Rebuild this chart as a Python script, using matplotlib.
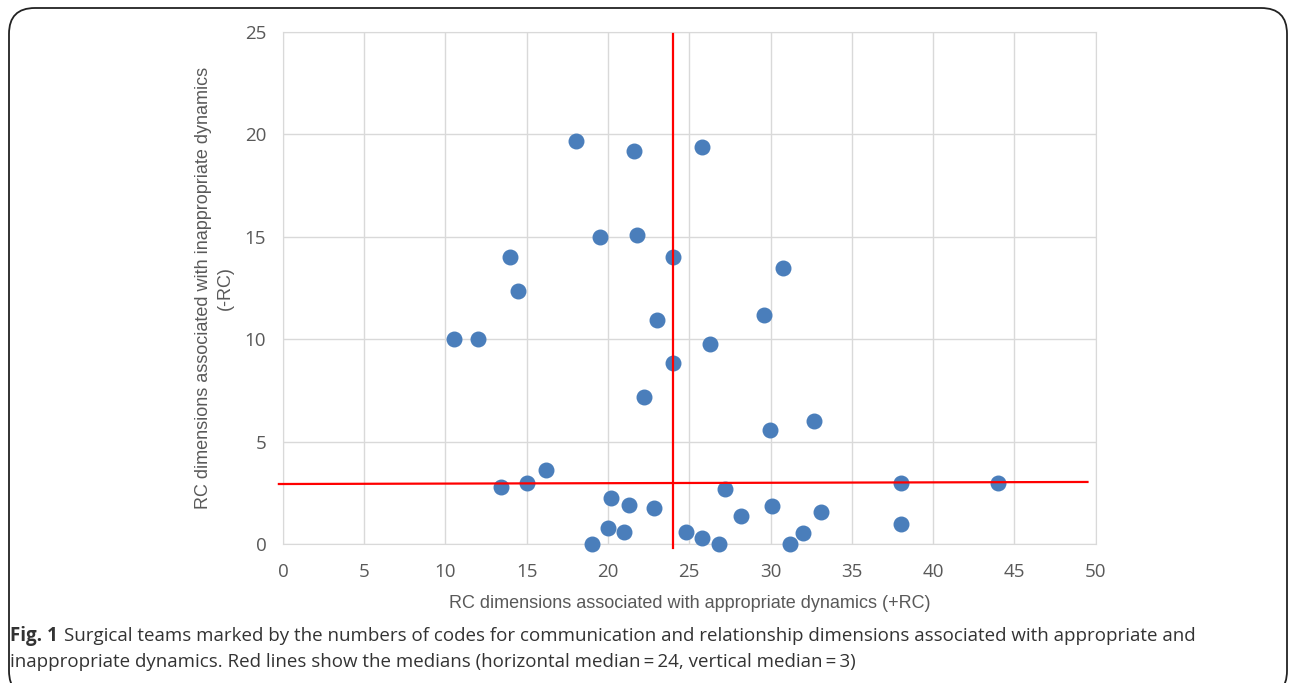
"""Surgical teams: +RC vs -RC codes scatter with median lines"""

import matplotlib
matplotlib.use('Agg')
import matplotlib.pyplot as plt
from matplotlib.patches import FancyBboxPatch

# points
pos_rc = [19.0, 10.5, 12.0, 14.0, 14.45, 13.4, 15.0, 16.2, 18.0, 19.5,
          20.2, 20.0, 21.0, 21.3, 21.6, 21.8, 22.2, 22.8, 23.0, 24.0,
          24.0, 24.8, 25.8, 25.8, 26.3, 26.8, 27.2, 28.2, 29.6, 29.95,
          30.1, 30.75, 31.2, 32.0, 32.7, 33.1, 38.0, 38.0, 44.0]
neg_rc = [0.0, 10.0, 10.0, 14.0, 12.35, 2.8, 3.0, 3.6, 19.7, 15.0,
          2.25, 0.8, 0.6, 1.9, 19.2, 15.1, 7.2, 1.75, 10.95, 14.0,
          8.85, 0.6, 19.4, 0.3, 9.75, 0.0, 2.7, 1.35, 11.2, 5.55,
          1.85, 13.5, 0.0, 0.55, 6.0, 1.55, 3.0, 1.0, 3.0]

median_x = 24
median_y = 3
# the hand-drawn horizontal median line is a little tilted
hline_x = [-0.25, 49.5]
hline_y = [2.93, 3.03]
vline_y = [-0.2, 24.9]

x_ticks = [0, 5, 10, 15, 20, 25, 30, 35, 40, 45, 50]
y_ticks = [0, 5, 10, 15, 20, 25]

caption_1 = ("Surgical teams marked by the numbers of codes for communication and "
             "relationship dimensions associated with appropriate and")
caption_2 = ("inappropriate dynamics. Red lines show the medians "
             "(horizontal median\u2009=\u200924, vertical median\u2009=\u20093)")

fig = plt.figure(figsize=(12.92, 6.83), dpi=100)
ax = fig.add_axes([0.219, 0.2035, 0.629, 0.7495])

ax.scatter(pos_rc, neg_rc, s=110, color='#4a7ebb', zorder=3, clip_on=False)
ax.plot(hline_x, hline_y, color='#ff0000', lw=1.6, zorder=4, clip_on=False)
ax.plot([median_x, median_x], vline_y, color='#ff0000', lw=1.6, zorder=4, clip_on=False)

ax.set_xlim(0, 50)
ax.set_ylim(0, 25)
ax.set_xticks(x_ticks)
ax.set_yticks(y_ticks)
ax.grid(True, color='#d9d9d9', lw=1.0, zorder=0)
for s in ax.spines.values():
    s.set_color('#d9d9d9')
ax.tick_params(length=0, labelsize=13.5, labelcolor='#595959')
ax.tick_params(axis='x', pad=14)
ax.tick_params(axis='y', pad=12)
for lab in ax.get_xticklabels() + ax.get_yticklabels():
    lab.set_family('Open Sans')

ax.set_xlabel('RC dimensions associated with appropriate dynamics (+RC)',
              family='Liberation Sans', fontsize=13, color='#595959', labelpad=10)
ax.set_ylabel('RC dimensions associated with inappropriate dynamics\n(-RC)',
              family='Liberation Sans', fontsize=13, color='#595959',
              labelpad=8, linespacing=1.35)

# rounded frame round the whole figure
frame = FancyBboxPatch((9 / 1292, -0.02), 1278 / 1292, 1 - 8 / 683 + 0.02,
                       boxstyle='round,pad=0,rounding_size=0.02',
                       transform=fig.transFigure, fill=False,
                       ec='#222222', lw=1.3, mutation_aspect=1292 / 683)
fig.add_artist(frame)

fig.text(10 / 1292, 1 - 636 / 683, 'Fig. 1', family='Open Sans', fontweight='bold',
         fontsize=13.5, color='#333333', va='center')
fig.text(64 / 1292, 1 - 636 / 683, caption_1, family='Open Sans',
         fontsize=13.5, color='#333333', va='center')
fig.text(10 / 1292, 1 - 662 / 683, caption_2, family='Open Sans',
         fontsize=13.5, color='#333333', va='center')

fig.savefig('out.png', dpi=100)
